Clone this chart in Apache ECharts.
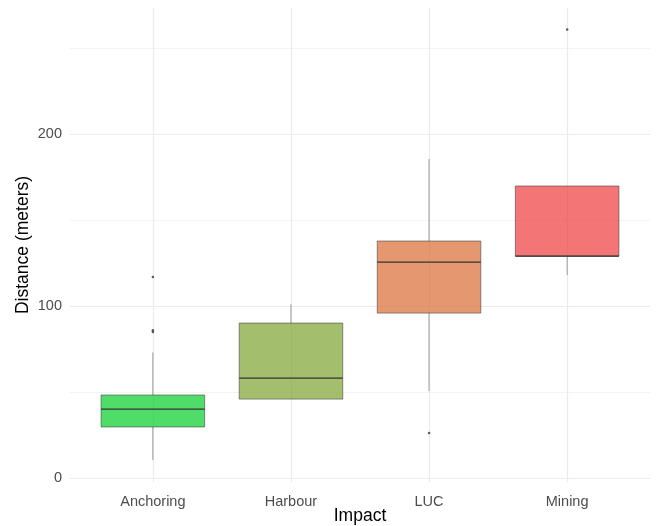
<!DOCTYPE html>
<html>
<head>
<meta charset="utf-8">
<script src="https://cdn.jsdelivr.net/npm/echarts@6/dist/echarts.min.js"></script>
<style>
html,body{margin:0;padding:0;background:#fff;}
#chart{width:656px;height:526px;}
</style>
</head>
<body>
<div id="chart"></div>
<script>
var categories = ['Anchoring', 'Harbour', 'LUC', 'Mining'];
var whiskerLow = [10.5, 45.9, 50.6, 118];
var q1 = [29.7, 45.9, 95.9, 129];
var medians = [40.1, 58.1, 125.6, 129];
var q3 = [48.3, 90.1, 137.8, 169.8];
var whiskerHigh = [73, 101, 185.5, 169.8];
var fillColors = ['rgba(5,205,41,0.7)', 'rgba(124,164,49,0.7)', 'rgba(218,108,51,0.7)', 'rgba(239,59,59,0.7)'];
var outlierCat = [1, 1, 1, 3, 4];
var outlierVal = [116.9, 86, 84.9, 26.2, 260.8];
var yMajorTicks = [0, 100, 200];
var yMinorTicks = [50, 150, 250];

var boxData = categories.map(function (c, i) {
  return [i + 1, whiskerLow[i], q1[i], medians[i], q3[i], whiskerHigh[i], i];
});
var outlierData = outlierCat.map(function (c, i) { return [c, outlierVal[i]]; });

var chart = echarts.init(document.getElementById('chart'), null, {renderer: 'canvas'});
var font = 'Liberation Sans, Arial, sans-serif';

chart.setOption({
  backgroundColor: '#ffffff',
  animation: false,
  grid: {left: 70, right: 6, top: 8, bottom: 44, containLabel: false, outerBoundsMode: 'none'},
  xAxis: {
    type: 'value', min: 0.4, max: 4.6,
    name: 'Impact', nameLocation: 'middle', nameGap: 25, nameMoveOverlap: false,
    nameTextStyle: {fontSize: 17.5, color: '#000', fontFamily: font},
    axisLine: {show: false},
    axisTick: {show: false, customValues: [1, 2, 3, 4]},
    axisLabel: {
      customValues: [1, 2, 3, 4], margin: 12, fontSize: 14.5, color: '#4d4d4d', fontFamily: font,
      formatter: function (v) { return categories[Math.round(v) - 1] || ''; }
    },
    splitLine: {show: true, lineStyle: {color: '#ebebeb', width: 1.2}}
  },
  yAxis: [{
    type: 'value', min: -2.3, max: 273.3,
    name: 'Distance (meters)', nameLocation: 'middle', nameGap: 38, nameMoveOverlap: false,
    nameTextStyle: {fontSize: 17.5, color: '#000', fontFamily: font},
    axisLine: {show: false},
    axisTick: {show: false, customValues: yMajorTicks},
    axisLabel: {customValues: yMajorTicks, margin: 8, fontSize: 14.5, color: '#4d4d4d', fontFamily: font},
    splitLine: {show: true, lineStyle: {color: '#ebebeb', width: 1.2}}
  }, {
    type: 'value', min: -2.3, max: 273.3, position: 'left',
    axisLine: {show: false},
    axisTick: {show: false, customValues: yMinorTicks},
    axisLabel: {show: false, customValues: yMinorTicks},
    splitLine: {show: true, lineStyle: {color: '#f3f3f3', width: 1}}
  }],
  series: [{
    type: 'custom',
    xAxisIndex: 0, yAxisIndex: 0,
    data: boxData,
    encode: {x: 0, y: [1, 2, 3, 4, 5]},
    renderItem: function (params, api) {
      var x = api.value(0);
      var idx = api.value(6);
      var half = api.size([0.75, 0])[0] / 2;
      var pLow = api.coord([x, api.value(1)]);
      var pQ1 = api.coord([x, api.value(2)]);
      var pMed = api.coord([x, api.value(3)]);
      var pQ3 = api.coord([x, api.value(4)]);
      var pHigh = api.coord([x, api.value(5)]);
      return {
        type: 'group',
        children: [
          {type: 'line', shape: {x1: pHigh[0], y1: pHigh[1], x2: pQ3[0], y2: pQ3[1]}, style: {stroke: '#999999', lineWidth: 1}},
          {type: 'line', shape: {x1: pQ1[0], y1: pQ1[1], x2: pLow[0], y2: pLow[1]}, style: {stroke: '#999999', lineWidth: 1}},
          {type: 'rect', shape: {x: pQ3[0] - half, y: pQ3[1], width: half * 2, height: pQ1[1] - pQ3[1]},
            style: {fill: fillColors[idx], stroke: 'rgba(60,60,60,0.7)', lineWidth: 0.8}},
          {type: 'line', shape: {x1: pMed[0] - half, y1: pMed[1], x2: pMed[0] + half, y2: pMed[1]}, style: {stroke: '#333333', lineWidth: 1.2}}
        ]
      };
    }
  }, {
    type: 'scatter',
    xAxisIndex: 0, yAxisIndex: 0,
    data: outlierData,
    symbolSize: 2.5,
    itemStyle: {color: '#333333'}
  }]
});
</script>
</body>
</html>
